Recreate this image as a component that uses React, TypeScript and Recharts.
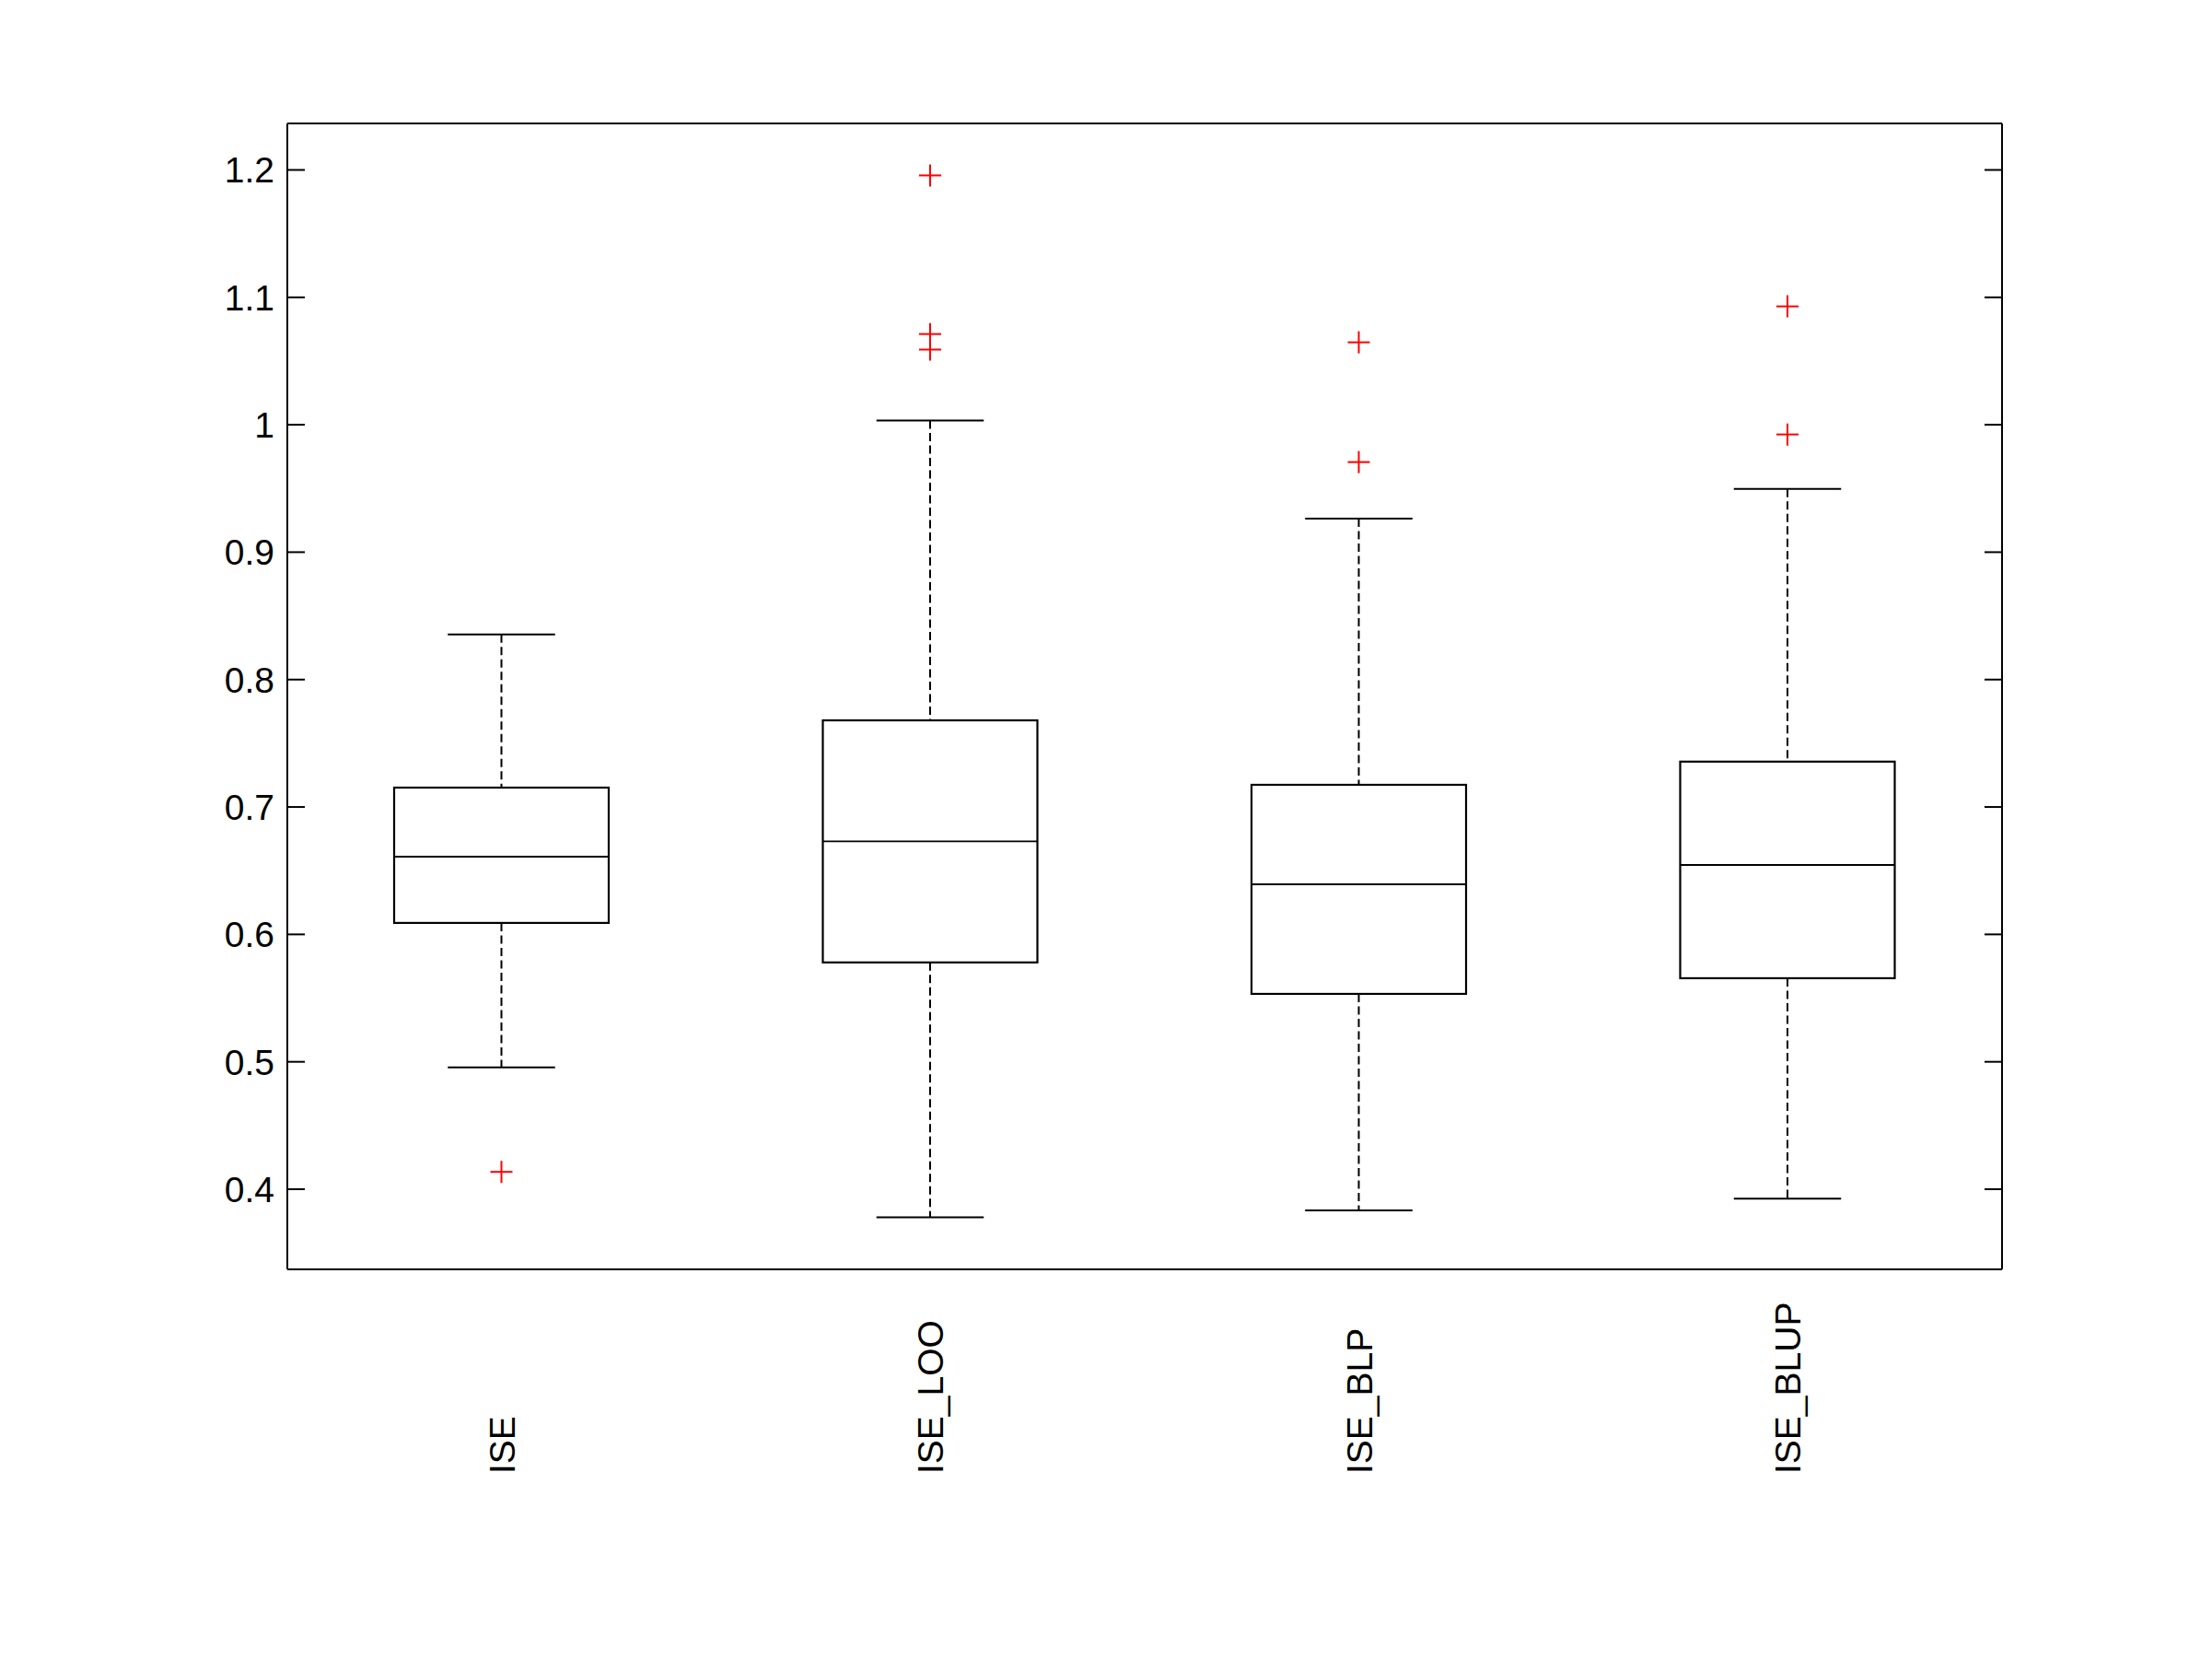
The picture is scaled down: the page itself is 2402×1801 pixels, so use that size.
import React from "react";
import { BarChart, Bar, XAxis, YAxis } from "recharts";

// box plot stats
const categories = ["ISE", "ISE_LOO", "ISE_BLP", "ISE_BLUP"];
const whiskerLow = [0.4956, 0.378, 0.3833, 0.3925];
const q1 = [0.609, 0.578, 0.5533, 0.5656];
const median = [0.661, 0.673, 0.6393, 0.6545];
const q3 = [0.7152, 0.768, 0.7174, 0.7356];
const whiskerHigh = [0.8354, 1.0033, 0.9264, 0.9497];
const outliers = [[0.4136], [1.1957, 1.0712, 1.059], [1.0647, 0.9707], [1.0929, 0.9924]];

const yTicks = [0.4, 0.5, 0.6, 0.7, 0.8, 0.9, 1, 1.1, 1.2];
const yDomain: [number, number] = [0.3371, 1.2365];

const rows = categories.map((name, i) => ({
  name,
  lo: whiskerLow[i],
  q1: q1[i],
  med: median[i],
  q3: q3[i],
  hi: whiskerHigh[i],
  out: outliers[i],
}));

const FONT = "'Liberation Sans', Arial, Helvetica, sans-serif";
const fmt = (v: number) => String(Math.round(v * 10) / 10);

function BoxShape(props: any) {
  const { x, y, width, height, payload } = props;
  const p = payload;
  // bar spans lo..hi, so map other stats through the same scale
  const py = (v: number) => y + ((p.hi - v) / (p.hi - p.lo)) * height;
  const cx = x + width / 2;
  const cap = width / 4;
  const top = py(p.q3);
  const bot = py(p.q1);
  return (
    <g>
      <line x1={cx} x2={cx} y1={y} y2={top} stroke="#000" strokeWidth={2} strokeDasharray="9 4.5" />
      <line x1={cx} x2={cx} y1={bot} y2={y + height} stroke="#000" strokeWidth={2} strokeDasharray="9 4.5" />
      <line x1={cx - cap} x2={cx + cap} y1={y} y2={y} stroke="#000" strokeWidth={2} />
      <line x1={cx - cap} x2={cx + cap} y1={y + height} y2={y + height} stroke="#000" strokeWidth={2} />
      <rect x={x} y={top} width={width} height={bot - top} fill="none" stroke="#000" strokeWidth={2.2} />
      <line x1={x} x2={x + width} y1={py(p.med)} y2={py(p.med)} stroke="#000" strokeWidth={1.8} />
      {p.out.map((v: number, i: number) => {
        const oy = py(v);
        return (
          <g key={i} stroke="#ff0000" strokeWidth={2}>
            <line x1={cx - 12} x2={cx + 12} y1={oy} y2={oy} />
            <line x1={cx} x2={cx} y1={oy - 12} y2={oy + 12} />
          </g>
        );
      })}
    </g>
  );
}

function LeftTick({ x, y, payload }: any) {
  return (
    <g>
      <line x1={x} x2={x + 19} y1={y} y2={y} stroke="#000" strokeWidth={2} />
      <text x={x - 14} y={y} dy="0.358em" textAnchor="end" fontSize={39} fontFamily={FONT} fill="#000">
        {fmt(payload.value)}
      </text>
    </g>
  );
}

function RightTick({ x, y }: any) {
  return <line x1={x - 19} x2={x} y1={y} y2={y} stroke="#000" strokeWidth={2} />;
}

function CatTick({ x, y, payload }: any) {
  const by = y + 222;
  return (
    <text
      x={x}
      y={by}
      dy="0.358em"
      transform={`rotate(-90, ${x}, ${by})`}
      textAnchor="start"
      fontSize={39}
      fontFamily={FONT}
      fill="#000"
    >
      {payload.value}
    </text>
  );
}

export default function App() {
  const axisLine = { stroke: "#000", strokeWidth: 2 };
  return (
    <div style={{ position: "absolute", left: 0, top: 0, width: 2402, height: 1801, background: "#fff" }}>
      <BarChart
        width={2402}
        height={1801}
        data={rows}
        margin={{ top: 133, right: 218, bottom: 201, left: 212 }}
        barSize={233}
      >
        <XAxis dataKey="name" interval={0} height={222} tickLine={false} tickSize={0} tickMargin={0} axisLine={axisLine} tick={<CatTick />} />
        <XAxis xAxisId="t" dataKey="name" orientation="top" height={1} tick={false} tickLine={false} axisLine={axisLine} />
        <YAxis
          type="number"
          domain={yDomain}
          ticks={yTicks}
          allowDataOverflow
          interval={0}
          width={100}
          tickLine={false}
          tickSize={0}
          tickMargin={0}
          axisLine={axisLine}
          tick={<LeftTick />}
        />
        <YAxis
          yAxisId="r"
          orientation="right"
          type="number"
          domain={yDomain}
          ticks={yTicks}
          allowDataOverflow
          interval={0}
          width={10}
          tickLine={false}
          tickSize={0}
          tickMargin={0}
          axisLine={axisLine}
          tick={<RightTick />}
        />
        <Bar dataKey={(d: any) => [d.lo, d.hi]} shape={<BoxShape />} isAnimationActive={false} />
      </BarChart>
    </div>
  );
}
